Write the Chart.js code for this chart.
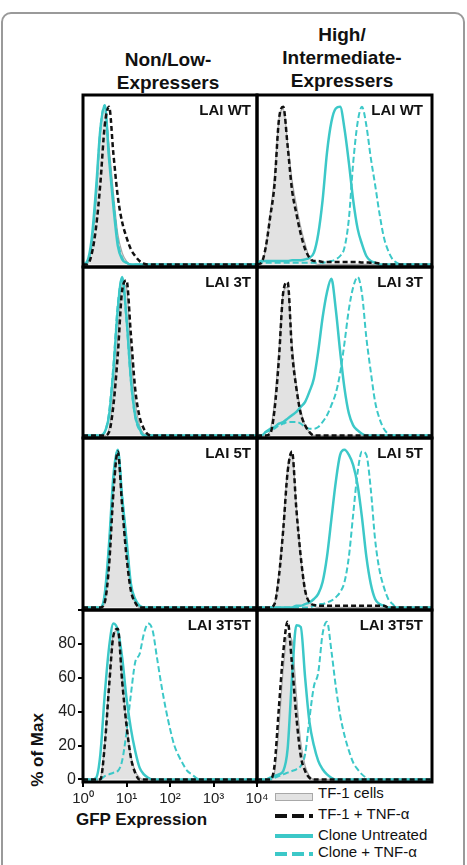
<!DOCTYPE html>
<html>
<head>
<meta charset="utf-8">
<script src="https://cdn.jsdelivr.net/npm/chart.js@4.4.1/dist/chart.umd.min.js"></script>
<style>
  html, body { margin: 0; padding: 0; background: #fff; }
  body { width: 467px; height: 865px; position: relative; overflow: hidden;
         font-family: "Liberation Sans", Arial, Helvetica, sans-serif; color: #111; }
  .frame { position: absolute; left: 1px; top: 12px; width: 460px; height: 880px;
           border: 2px solid #9a9a9a; border-radius: 10px; }
  canvas { position: absolute; }
  .head { position: absolute; width: 200px; font-weight: bold; font-size: 19px;
          line-height: 23px; text-align: center; }
  .tag { position: absolute; font-weight: bold; font-size: 15px; line-height: 18px;
         white-space: nowrap; text-align: right; z-index: 5; }
  .axis-title { position: absolute; font-weight: bold; font-size: 17px; line-height: 20px;
                white-space: nowrap; }
  .leg-text { position: absolute; left: 318px; font-size: 15px; line-height: 18px; white-space: nowrap; }
  .swatch { position: absolute; left: 275px; width: 38px; }
</style>
</head>
<body>
<div class="frame"></div>

<div class="head" style="left:68px; top:48px;">Non/Low-<br>Expressers</div>
<div class="head" style="left:242px; top:23px;">High/<br>Intermediate-<br>Expressers</div>

<div class="axis-title" style="left:-2px; top:740px; width:80px; text-align:center; transform:rotate(-90deg);">% of Max</div>
<div class="axis-title" style="left:76px; top:810px;">GFP Expression</div>

<div class="swatch" style="top:793px; height:6px; background:#e2e2e2; border:1px solid #a8a8a8; width:36px;"></div>
<div class="leg-text" style="top:784px;">TF-1 cells</div>
<div class="swatch" style="top:814px; height:4px; background:repeating-linear-gradient(90deg,#111 0 12px,transparent 12px 17px);"></div>
<div class="leg-text" style="top:805px;">TF-1 + TNF-α</div>
<div class="swatch" style="top:834px; height:4px; background:#3cc8c8;"></div>
<div class="leg-text" style="top:826px;">Clone Untreated</div>
<div class="swatch" style="top:852px; height:4px; background:repeating-linear-gradient(90deg,#3cc8c8 0 12px,transparent 12px 17px);"></div>
<div class="leg-text" style="top:843px;">Clone + TNF-α</div>

<script>
// GFP bins (log spaced, 10 per decade)
const gfpBins = [1, 1.26, 1.58, 2, 2.51, 3.16, 3.98, 5.01, 6.31, 7.94,
                 10, 12.6, 15.8, 20, 25.1, 31.6, 39.8, 50.1, 63.1, 79.4,
                 100, 126, 158, 200, 251, 316, 398, 501, 631, 794,
                 1000, 1260, 1580, 2000, 2510, 3160, 3980, 5010, 6310, 7940,
                 10000];
const gfpTicks = [1, 10, 100, 1000, 10000];
const gfpTickLabels = ['10⁰', '10¹', '10²', '10³', '10⁴'];
const pctTicks = [0, 20, 40, 60, 80, 100];

// LAI WT, non/low
const wtLowCells = [0,1,10,38,78,93,70,42,18,7, 2,0,0,0,0,0,0,0,0,0, 0,0,0,0,0,0,0,0,0,0, 0,0,0,0,0,0,0,0,0,0, 0];
const wtLowTnf = [0,0,6,22,48,82,93,65,40,25, 16,9,5,2,0.5,0,0,0,0,0, 0,0,0,0,0,0,0,0,0,0, 0,0,0,0,0,0,0,0,0,0, 0];
const wtLowClone = [0,2,15,45,80,94,62,34,11,3, 1,0,0,0,0,0,0,0,0,0, 0,0,0,0,0,0,0,0,0,0, 0,0,0,0,0,0,0,0,0,0, 0];
const wtLowCloneTnf = [0,1,12,42,80,94,64,38,14,4, 1,0,0,0,0,0,0,0,0,0, 0,0,0,0,0,0,0,0,0,0, 0,0,0,0,0,0,0,0,0,0, 0];

// LAI WT, high/intermediate
const wtHighCells = [0,0,10,30,52,85,92,72,50,35, 22,12,4,1,0,0,0,0,0,0, 0,0,0,0,0,0,0,0,0,0, 0,0,0,0,0,0,0,0,0,0, 0];
const wtHighTnf = [0,1,10,28,47,85,93,70,44,30, 18,9,4,2,2,1.5,1.5,1.5,1.5,1.5, 1.5,1.5,1.5,1.5,1.2,1.2,1,1,0.5,0, 0,0,0,0,0,0,0,0,0,0, 0];
const wtHighClone = [1,2,2,2,2,2,2,2,2.5,2.5, 2.5,3,4,7,18,38,66,84,92,93, 80,60,38,21,12,5,2,1,0,0, 0,0,0,0,0,0,0,0,0,0, 0];
const wtHighCloneTnf = [0,1,1,1,1,1,1,1,1,1, 1,1,1,1,1,1,1.5,2,3,5, 10,27,60,84,93,82,63,47,30,16, 8,3,1,0,0,0,0,0,0,0, 0];

// LAI 3T, non/low
const t3LowCells = [0,0,0,0,0,0,4,25,58,90, 88,50,20,6,1,0,0,0,0,0, 0,0,0,0,0,0,0,0,0,0, 0,0,0,0,0,0,0,0,0,0, 0];
const t3LowTnf = [0,0,0,0,0,0,2,18,48,86, 92,60,28,11,4,0.5,0,0,0,0, 0,0,0,0,0,0,0,0,0,0, 0,0,0,0,0,0,0,0,0,0, 0];
const t3LowClone = [0,0,0,0,0,2,12,39,75,94, 70,34,12,4,0,0,0,0,0,0, 0,0,0,0,0,0,0,0,0,0, 0,0,0,0,0,0,0,0,0,0, 0];
const t3LowCloneTnf = [0,0,0,0,0,2,14,42,78,93, 68,32,11,3,0,0,0,0,0,0, 0,0,0,0,0,0,0,0,0,0, 0,0,0,0,0,0,0,0,0,0, 0];

// LAI 3T, high/intermediate
const t3HighCells = [0,0,0,3,20,50,85,88,55,30, 15,6,2,0,0,0,0,0,0,0, 0,0,0,0,0,0,0,0,0,0, 0,0,0,0,0,0,0,0,0,0, 0];
const t3HighTnf = [0,0,0,1,15,45,85,91,50,28, 13,6,2,0,0,0,0,0,0,0, 0,0,0,0,0,0,0,0,0,0, 0,0,0,0,0,0,0,0,0,0, 0];
const t3HighClone = [0,0,2,4,5,7,8,10,12,14, 17,20,26,34,50,70,85,93,75,50, 28,13,6,3,1,0,0,0,0,0, 0,0,0,0,0,0,0,0,0,0, 0];
const t3HighCloneTnf = [0,0,2,3,4,6,7,8,8,8, 7,5,4,4,5,8,12,18,25,37, 55,75,88,94,84,58,38,20,10,4, 1,0,0,0,0,0,0,0,0,0, 0];

// LAI 5T, non/low
const t5LowCells = [0,0,0,0,0,3,28,70,91,62, 32,11,3,0,0,0,0,0,0,0, 0,0,0,0,0,0,0,0,0,0, 0,0,0,0,0,0,0,0,0,0, 0];
const t5LowTnf = [0,0,0,0,0,3,25,68,92,60, 30,10,3,0,0,0,0,0,0,0, 0,0,0,0,0,0,0,0,0,0, 0,0,0,0,0,0,0,0,0,0, 0];
const t5LowClone = [0,0,0,0,0,8,38,78,93,65, 40,14,5,1,0,0,0,0,0,0, 0,0,0,0,0,0,0,0,0,0, 0,0,0,0,0,0,0,0,0,0, 0];
const t5LowCloneTnf = [0,0,0,0,0,7,36,76,93,66, 38,13,4,1,0,0,0,0,0,0, 0,0,0,0,0,0,0,0,0,0, 0,0,0,0,0,0,0,0,0,0, 0];

// LAI 5T, high/intermediate
const t5HighCells = [0,0,0,0,2,20,48,82,90,60, 30,10,3,1,0,0,0,0,0,0, 0,0,0,0,0,0,0,0,0,0, 0,0,0,0,0,0,0,0,0,0, 0];
const t5HighTnf = [0,0,0,0,2,18,46,80,92,58, 30,10,3,1.5,1,1,1,1,1,1, 1,1,1,1,1,1,1,1,1,1, 0,0,0,0,0,0,0,0,0,0, 0];
const t5HighClone = [0,0,0,0,0,0,0,0,0,1, 1,2,3,5,8,15,30,52,74,90, 93,90,84,72,53,30,14,5,2,1, 0,0,0,0,0,0,0,0,0,0, 0];
const t5HighCloneTnf = [0,0,0,0,0,0,0,0,0,0, 0,0,0,1,2,2,3,4,6,9, 15,30,55,80,92,90,70,40,22,12, 5,2,0,0,0,0,0,0,0,0, 0];

// LAI 3T5T, non/low
const t35LowCells = [0,0,0,0,1,22,58,86,88,60, 34,14,5,1,0,0,0,0,0,0, 0,0,0,0,0,0,0,0,0,0, 0,0,0,0,0,0,0,0,0,0, 0];
const t35LowTnf = [0,0,0,0,0,20,55,85,89,58, 32,13,4,0,0,0,0,0,0,0, 0,0,0,0,0,0,0,0,0,0, 0,0,0,0,0,0,0,0,0,0, 0];
const t35LowClone = [0,0,0,1,15,50,78,92,88,72, 48,30,17,7,3,1,0,0,0,0, 0,0,0,0,0,0,0,0,0,0, 0,0,0,0,0,0,0,0,0,0, 0];
const t35LowCloneTnf = [0,0,0,0,0,2,3,4,5,11, 28,50,69,74,86,92,88,72,56,42, 30,20,14,9,5,3,1,0,0,0, 0,0,0,0,0,0,0,0,0,0, 0];

// LAI 3T5T, high/intermediate
const t35HighCells = [0,0,0,0,4,30,65,85,82,50, 22,8,2,0,0,0,0,0,0,0, 0,0,0,0,0,0,0,0,0,0, 0,0,0,0,0,0,0,0,0,0, 0];
const t35HighTnf = [0,0,0,0,8,42,75,93,68,37, 14,5,1,0,0,0,0,0,0,0, 0,0,0,0,0,0,0,0,0,0, 0,0,0,0,0,0,0,0,0,0, 0];
const t35HighClone = [0,0,0,1,2,3,5,18,60,91, 90,60,34,20,11,6,3,1,0,0, 0,0,0,0,0,0,0,0,0,0, 0,0,0,0,0,0,0,0,0,0, 0];
const t35HighCloneTnf = [0,0,0,0,1,2,3,4,5,6, 8,15,36,55,63,86,93,76,55,38, 26,17,10,6,3,1,0,0,0,0, 0,0,0,0,0,0,0,0,0,0, 0];

const panels = [
  { label: 'LAI WT', row: 0, col: 0, cells: wtLowCells, tnf: wtLowTnf, clone: wtLowClone, cloneTnf: wtLowCloneTnf },
  { label: 'LAI WT', row: 0, col: 1, cells: wtHighCells, tnf: wtHighTnf, clone: wtHighClone, cloneTnf: wtHighCloneTnf },
  { label: 'LAI 3T', row: 1, col: 0, cells: t3LowCells, tnf: t3LowTnf, clone: t3LowClone, cloneTnf: t3LowCloneTnf },
  { label: 'LAI 3T', row: 1, col: 1, cells: t3HighCells, tnf: t3HighTnf, clone: t3HighClone, cloneTnf: t3HighCloneTnf },
  { label: 'LAI 5T', row: 2, col: 0, cells: t5LowCells, tnf: t5LowTnf, clone: t5LowClone, cloneTnf: t5LowCloneTnf },
  { label: 'LAI 5T', row: 2, col: 1, cells: t5HighCells, tnf: t5HighTnf, clone: t5HighClone, cloneTnf: t5HighCloneTnf },
  { label: 'LAI 3T5T', row: 3, col: 0, cells: t35LowCells, tnf: t35LowTnf, clone: t35LowClone, cloneTnf: t35LowCloneTnf },
  { label: 'LAI 3T5T', row: 3, col: 1, cells: t35HighCells, tnf: t35HighTnf, clone: t35HighClone, cloneTnf: t35HighCloneTnf }
];

const CYAN = '#3cc8c8';
const colX = [83, 257, 432];
const rowY = [95, 267, 438, 610, 782];
const tagRight = [251, 423];
const PAD = 3;

Chart.defaults.font.family = '"Liberation Sans", Arial, Helvetica, sans-serif';
Chart.defaults.animation = false;

// black box round each panel
const panelFrame = {
  id: 'panelFrame',
  afterDatasetsDraw(chart) {
    const a = chart.chartArea;
    const ctx = chart.ctx;
    ctx.save();
    ctx.strokeStyle = '#000';
    ctx.lineWidth = 3;
    ctx.strokeRect(a.left, a.top, a.right - a.left, a.bottom - a.top);
    ctx.restore();
  }
};

function points(arr) {
  return gfpBins.map((g, i) => ({ x: g, y: arr[i] }));
}

function makeDatasets(p) {
  return [
    { label: 'TF-1 + TNF-α', data: points(p.tnf), borderColor: '#111', borderWidth: 2.5,
      borderDash: [5, 3], fill: false },
    { label: 'Clone Untreated', data: points(p.clone), borderColor: CYAN, borderWidth: 2.5, fill: false },
    { label: 'Clone + TNF-α', data: points(p.cloneTnf), borderColor: CYAN, borderWidth: 2,
      borderDash: [6, 3], fill: false },
    { label: 'TF-1 cells', data: points(p.cells), borderColor: '#a8a8a8', borderWidth: 1.2,
      backgroundColor: '#e2e2e2', fill: 'origin' }
  ];
}

panels.forEach(p => {
  const left = colX[p.col], right = colX[p.col + 1];
  const top = rowY[p.row], bottom = rowY[p.row + 1];
  const withAxes = p.row === 3 && p.col === 0;

  const cv = document.createElement('canvas');
  let cl, ct, cw, ch, padding;
  if (withAxes) {
    cl = 0; ct = top - PAD; cw = right + 23; ch = bottom + 30 - ct;
    padding = { left: 0, top: PAD, right: 23, bottom: 0 };
  } else {
    cl = left - PAD; ct = top - PAD; cw = right - left + 2 * PAD; ch = bottom - top + 2 * PAD;
    padding = PAD;
  }
  cv.width = cw; cv.height = ch;
  cv.style.left = cl + 'px'; cv.style.top = ct + 'px';
  document.body.appendChild(cv);

  const xScale = { type: 'logarithmic', min: 1, max: 10000, display: false };
  const yScale = { type: 'linear', min: -1.5, max: 100, display: false };
  if (withAxes) {
    Object.assign(xScale, {
      display: true,
      afterBuildTicks: s => { s.ticks = gfpTicks.map(v => ({ value: v })); },
      afterFit: s => { s.height = 30; s.paddingLeft = 0; s.paddingRight = 0; },
      grid: { drawOnChartArea: false, drawTicks: true, tickLength: 5, color: '#000', lineWidth: 2 },
      border: { display: false },
      ticks: { callback: (v, i) => gfpTickLabels[i], font: { size: 15 }, color: '#222',
               padding: 3, maxRotation: 0, autoSkip: false }
    });
    Object.assign(yScale, {
      display: true,
      afterBuildTicks: s => { s.ticks = pctTicks.map(v => ({ value: v })); },
      afterFit: s => { s.width = 83; s.paddingTop = 0; s.paddingBottom = 0; },
      grid: { drawOnChartArea: false, drawTicks: true, tickLength: 5, color: '#000', lineWidth: 2 },
      border: { display: false },
      ticks: { callback: v => (v === 100 ? '' : v), font: { size: 16 }, color: '#222', padding: 2 }
    });
  }

  new Chart(cv, {
    type: 'line',
    data: { datasets: makeDatasets(p) },
    options: {
      responsive: false,
      devicePixelRatio: 1,
      layout: { padding: padding },
      elements: { point: { radius: 0 }, line: { cubicInterpolationMode: 'monotone' } },
      plugins: { legend: { display: false }, tooltip: { enabled: false } },
      scales: { x: xScale, y: yScale }
    },
    plugins: [panelFrame]
  });

  const tag = document.createElement('div');
  tag.className = 'tag';
  tag.textContent = p.label;
  tag.style.right = (467 - tagRight[p.col]) + 'px';
  tag.style.top = (top + 6) + 'px';
  document.body.appendChild(tag);
});
</script>
</body>
</html>
